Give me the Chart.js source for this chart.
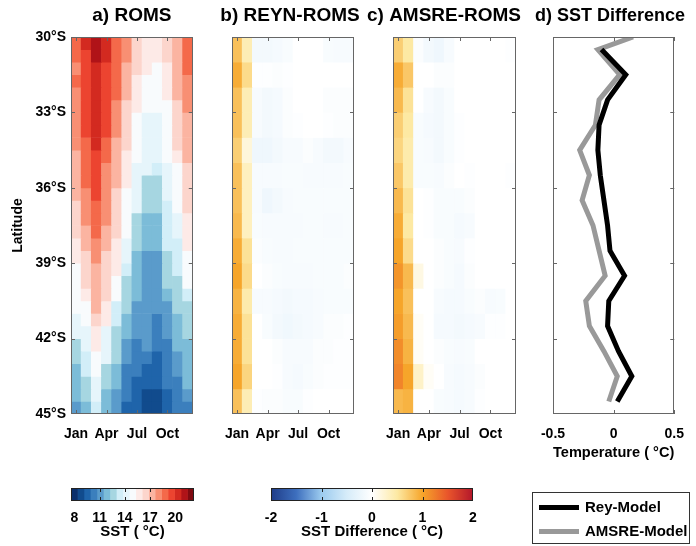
<!DOCTYPE html>
<html>
<head>
<meta charset="utf-8">
<script src="https://cdn.jsdelivr.net/npm/chart.js@4.4.1/dist/chart.umd.min.js"></script>
<style>
  body { margin: 0; background: #fff; }
  #figure { position: relative; width: 696px; height: 546px; overflow: hidden; font-family: 'Liberation Sans', Arial, sans-serif; }
  #figure canvas { position: absolute; }
  #legendBox { position: absolute; left: 532px; top: 492px; width: 158px; height: 52px; border: 1px solid #333; box-sizing: border-box; }
  .legend-row { position: absolute; left: 6px; height: 16px; line-height: 16px; display: flex; align-items: center; font-weight: bold; font-size: 15px; color: #000; }
  .legend-line { width: 40px; height: 5px; margin-right: 6px; }
</style>
</head>
<body>
<div id="figure">
  <canvas id="panelA" width="200" height="470" style="left:0;top:0"></canvas>
  <canvas id="panelB" width="160" height="470" style="left:212px;top:0"></canvas>
  <canvas id="panelC" width="170" height="470" style="left:366px;top:0"></canvas>
  <canvas id="panelD" width="176" height="470" style="left:520px;top:0"></canvas>
  <canvas id="barSst" width="210" height="70" style="left:0;top:476px"></canvas>
  <canvas id="barDiff" width="280" height="70" style="left:230px;top:476px"></canvas>
  <div id="legendBox">
    <div class="legend-row" style="top:6px"><span class="legend-line" style="background:#000"></span>Rey-Model</div>
    <div class="legend-row" style="top:30px"><span class="legend-line" style="background:#999"></span>AMSRE-Model</div>
  </div>
</div>
<script>
// Axis labels
const months = ['Jan', 'Feb', 'Mar', 'Apr', 'May', 'Jun', 'Jul', 'Aug', 'Sep', 'Oct', 'Nov', 'Dec'];
const monthTicks = ['Jan', 'Apr', 'Jul', 'Oct'];
const latTicks = [30, 33, 36, 39, 42, 45];
const sstTicks = [8, 11, 14, 17, 20];
const diffTicks = [-2, -1, 0, 1, 2];
const tempTicks = [-0.5, 0, 0.5];

// a) ROMS SST (°C), rows every 0.5° from 30°S down to 45°S, columns Jan..Dec
const sstRoms = [
  [18.5, 20.0, 20.7, 20.0, 18.5, 17.7, 16.2, 15.5, 15.5, 16.2, 17.0, 18.5],
  [18.5, 19.2, 20.7, 20.0, 18.5, 17.7, 16.2, 15.5, 15.5, 16.2, 17.0, 18.5],
  [17.7, 19.2, 20.0, 19.2, 18.5, 17.0, 16.2, 15.5, 14.7, 15.5, 17.0, 18.5],
  [18.5, 19.2, 20.0, 19.2, 18.5, 17.0, 15.5, 14.7, 14.7, 15.5, 17.0, 17.7],
  [17.7, 19.2, 20.0, 19.2, 18.5, 17.0, 15.5, 14.7, 14.7, 15.5, 17.0, 17.7],
  [17.7, 19.2, 20.0, 19.2, 17.7, 16.2, 15.5, 14.7, 14.7, 14.7, 16.2, 17.7],
  [17.7, 19.2, 20.0, 19.2, 17.7, 16.2, 14.7, 14.0, 14.0, 14.7, 16.2, 17.0],
  [17.7, 19.2, 20.0, 19.2, 17.7, 16.2, 14.7, 14.0, 14.0, 14.7, 16.2, 17.0],
  [17.7, 18.5, 20.0, 18.5, 17.0, 16.2, 14.7, 14.0, 14.0, 14.7, 16.2, 17.0],
  [17.0, 18.5, 19.2, 18.5, 17.0, 15.5, 14.7, 14.0, 14.0, 14.7, 15.5, 17.0],
  [17.0, 18.5, 19.2, 17.7, 17.0, 15.5, 14.0, 14.0, 13.2, 14.0, 14.7, 16.2],
  [17.0, 18.5, 19.2, 17.7, 17.0, 15.5, 14.0, 12.5, 12.5, 14.0, 14.7, 16.2],
  [17.0, 17.7, 19.2, 17.7, 16.2, 14.7, 14.0, 12.5, 12.5, 14.0, 14.7, 16.2],
  [16.2, 17.7, 18.5, 17.7, 16.2, 14.7, 14.0, 12.5, 12.5, 13.2, 14.7, 16.2],
  [16.2, 17.7, 18.5, 17.7, 16.2, 14.7, 12.5, 11.7, 11.7, 13.2, 14.0, 15.5],
  [16.2, 17.0, 18.5, 17.0, 16.2, 14.7, 12.5, 11.7, 11.7, 13.2, 14.0, 15.5],
  [15.5, 17.0, 17.7, 17.0, 15.5, 14.0, 12.5, 11.7, 11.7, 13.2, 13.2, 15.5],
  [15.5, 16.2, 17.7, 16.2, 15.5, 14.0, 11.7, 11.0, 11.0, 12.5, 13.2, 14.7],
  [14.7, 16.2, 17.0, 16.2, 15.5, 13.2, 11.7, 11.0, 11.0, 12.5, 13.2, 14.7],
  [14.7, 16.2, 17.0, 16.2, 14.7, 12.5, 11.7, 11.0, 11.0, 12.5, 12.5, 14.7],
  [14.7, 15.5, 17.0, 16.2, 14.7, 12.5, 11.7, 11.0, 11.0, 11.7, 12.5, 13.2],
  [14.7, 14.7, 17.0, 15.5, 13.2, 12.5, 11.0, 11.0, 11.0, 11.0, 12.5, 12.5],
  [14.0, 14.7, 16.2, 15.5, 13.2, 11.7, 11.0, 11.0, 10.2, 11.0, 11.7, 12.5],
  [14.0, 14.0, 15.5, 14.0, 12.5, 11.7, 11.0, 11.0, 10.2, 11.0, 11.7, 12.5],
  [12.5, 14.0, 15.5, 14.0, 12.5, 11.0, 10.2, 11.0, 10.2, 10.2, 11.7, 11.7],
  [12.5, 13.2, 14.7, 14.0, 12.5, 11.0, 10.2, 10.2, 9.5, 10.2, 11.0, 11.7],
  [11.7, 13.2, 14.7, 12.5, 11.7, 10.2, 10.2, 9.5, 9.5, 10.2, 11.0, 11.7],
  [11.7, 12.5, 14.0, 12.5, 11.7, 10.2, 9.5, 9.5, 9.5, 10.2, 10.2, 11.7],
  [11.7, 12.5, 14.0, 11.7, 11.0, 10.2, 9.5, 8.7, 8.7, 9.5, 10.2, 11.0],
  [11.0, 11.7, 13.2, 11.7, 11.0, 9.5, 9.5, 8.7, 8.7, 9.5, 10.2, 10.2]
];

// b) REYN-ROMS difference (°C), rows every 1° from 30°S
const reynDiff = [
  [0.80, 0.40, -0.15, -0.15, -0.12, -0.08, 0, 0, 0, -0.08, -0.10, -0.10],
  [0.95, 0.60, -0.03, -0.03, -0.05, -0.03, 0, 0, 0, 0, 0, 0],
  [0.80, 0.40, -0.10, -0.15, -0.12, -0.05, 0, 0, 0, -0.05, -0.05, -0.05],
  [0.80, 0.40, -0.10, -0.15, -0.12, -0.05, -0.03, 0, 0, -0.03, -0.05, -0.05],
  [0.70, 0.20, -0.20, -0.20, -0.15, -0.10, -0.10, -0.05, -0.10, -0.15, -0.15, -0.10],
  [0.80, 0.35, -0.10, -0.10, -0.10, -0.08, -0.08, -0.10, -0.10, -0.10, -0.10, -0.08],
  [0.80, 0.35, -0.10, -0.20, -0.15, -0.10, -0.08, -0.08, -0.08, -0.08, -0.08, -0.08],
  [0.85, 0.35, -0.08, -0.10, -0.10, -0.10, -0.10, -0.08, -0.08, -0.10, -0.10, -0.08],
  [0.95, 0.55, -0.05, -0.08, -0.10, -0.10, -0.08, -0.08, -0.08, -0.08, -0.08, -0.08],
  [1.00, 0.60, 0, -0.05, -0.08, -0.10, -0.10, -0.10, -0.08, -0.08, -0.08, -0.05],
  [0.90, 0.45, -0.10, -0.10, -0.12, -0.15, -0.12, -0.12, -0.10, -0.08, -0.08, -0.08],
  [0.95, 0.55, 0, -0.08, -0.15, -0.18, -0.15, -0.12, -0.10, -0.05, -0.05, -0.03],
  [0.95, 0.55, 0, 0, -0.05, -0.10, -0.10, -0.10, -0.05, -0.05, -0.03, -0.03],
  [1.00, 0.65, 0, 0, -0.03, -0.10, -0.12, -0.08, -0.05, -0.03, -0.03, -0.03],
  [0.80, 0.40, -0.03, -0.05, -0.05, -0.08, -0.08, -0.03, 0, 0, 0, 0]
];

// c) AMSRE-ROMS difference (°C), rows every 1° from 30°S
const amsreDiff = [
  [0.70, 0.50, -0.05, -0.15, -0.20, -0.10, 0, 0, 0, 0, 0, -0.03],
  [0.95, 0.75, 0, 0, -0.05, -0.05, 0, 0, 0, 0, 0, 0],
  [0.85, 0.55, 0, -0.10, -0.15, -0.08, 0, 0, 0, 0, 0, 0],
  [0.70, 0.50, -0.08, -0.12, -0.15, -0.08, -0.03, 0, 0, 0, 0, 0],
  [0.65, 0.45, -0.08, -0.10, -0.15, -0.08, -0.03, 0, 0, 0, 0, 0],
  [0.75, 0.45, -0.08, -0.08, -0.10, -0.05, 0, -0.03, 0, 0, 0, -0.03],
  [0.85, 0.55, 0, -0.03, -0.08, -0.08, -0.08, -0.05, 0, 0, 0, 0],
  [0.95, 0.50, 0, -0.03, -0.08, -0.08, -0.12, -0.10, 0, 0, 0, 0],
  [1.00, 0.60, 0, 0, -0.05, -0.08, -0.10, -0.03, 0, 0, 0, 0],
  [1.10, 0.85, 0.15, 0, -0.05, -0.08, -0.12, -0.05, 0, 0, 0, 0],
  [1.00, 0.80, 0, 0, -0.10, -0.12, -0.12, -0.08, -0.05, -0.10, -0.08, 0],
  [1.05, 0.85, 0.05, 0, -0.12, -0.12, -0.15, -0.12, -0.10, -0.03, -0.03, 0],
  [1.15, 0.90, 0.05, 0, -0.05, -0.08, -0.10, -0.08, 0, 0, 0, 0],
  [1.20, 1.00, 0.30, 0.05, 0, -0.10, -0.12, -0.10, -0.05, 0, 0, 0],
  [0.85, 0.90, 0, 0, -0.08, -0.10, -0.12, -0.10, -0.03, 0, 0, 0]
];

// d) annual mean SST difference profiles (°C)
const reyLat = [30.5, 31.5, 32.5, 33.5, 34.5, 35.5, 36.5, 37.5, 38.5, 39.5, 40.5, 41.5, 42.5, 43.5, 44.5];
const reyModel = [-0.10, 0.10, -0.05, -0.12, -0.13, -0.11, -0.08, -0.05, -0.03, 0.09, -0.04, -0.05, 0.04, 0.15, 0.03];
const amsreLat = [30.0, 30.5, 31.5, 32.5, 33.5, 34.5, 35.5, 36.5, 37.5, 38.5, 39.5, 40.5, 41.5, 42.5, 43.5, 44.5];
const amsreModel = [0.16, -0.13, 0.05, -0.12, -0.15, -0.28, -0.20, -0.26, -0.17, -0.12, -0.07, -0.23, -0.20, -0.08, 0.03, -0.04];

// colour scales
const sstMin = 7.6;
const sstStep = 0.77;
const sstColors = ['#0a2f6b', '#114b8d', '#1f64aa', '#3b7fbd', '#5a9bcb', '#7cbcd8', '#a6d6e1', '#d2eef8', '#e6f5fb',
  '#f8fbfd', '#fdeae7', '#fcd5cc', '#fbb4a1', '#f88f73', '#f4694a', '#ec4430', '#d32a20', '#b01318', '#7f0a10'];
const diffStops = [[-2, '#1f3c88'], [-1.5, '#3d6fbe'], [-1, '#9ccbef'], [-0.5, '#d6ecf9'], [0, '#ffffff'],
  [0.5, '#fde9a3'], [1, '#f6a52a'], [1.5, '#e9552b'], [2, '#b3162b']];

const FONT = "'Liberation Sans', Arial, sans-serif";
Chart.defaults.font.family = FONT;
Chart.defaults.color = '#000';
Chart.defaults.animation = false;

function sstColor(v) {
  let i = Math.floor((v - sstMin) / sstStep);
  i = Math.max(0, Math.min(sstColors.length - 1, i));
  return sstColors[i];
}

function hexToRgb(h) {
  const n = parseInt(h.slice(1), 16);
  return [(n >> 16) & 255, (n >> 8) & 255, n & 255];
}

function diffColor(v) {
  v = Math.max(-2, Math.min(2, v));
  for (let i = 0; i < diffStops.length - 1; i++) {
    const [v0, c0] = diffStops[i];
    const [v1, c1] = diffStops[i + 1];
    if (v >= v0 && v <= v1) {
      const t = (v - v0) / (v1 - v0);
      const a = hexToRgb(c0), b = hexToRgb(c1);
      const rgb = a.map((x, k) => Math.round(x + (b[k] - x) * t));
      return `rgb(${rgb.join(',')})`;
    }
  }
  return '#fff';
}

// box round the plot area with MATLAB style inward ticks
const matBox = {
  id: 'matBox',
  afterDatasetsDraw(chart, args, opts) {
    if (!opts || !opts.show) return;
    const { ctx, chartArea: a } = chart;
    const xs = chart.scales.x, ys = chart.scales.y;
    const len = 4;
    ctx.save();
    ctx.strokeStyle = opts.color || '#555';
    ctx.lineWidth = 1;
    ctx.strokeRect(Math.round(a.left) + 0.5, Math.round(a.top) + 0.5, Math.round(a.width) - 1, Math.round(a.height) - 1);
    ctx.beginPath();
    (opts.xTicks || []).forEach(v => {
      const p = Math.round(xs.getPixelForValue(v)) + 0.5;
      ctx.moveTo(p, a.top); ctx.lineTo(p, a.top + len);
      ctx.moveTo(p, a.bottom); ctx.lineTo(p, a.bottom - len);
    });
    (opts.yTicks || []).forEach(v => {
      const p = Math.round(ys.getPixelForValue(v)) + 0.5;
      ctx.moveTo(a.left, p); ctx.lineTo(a.left + len, p);
      ctx.moveTo(a.right, p); ctx.lineTo(a.right - len, p);
    });
    ctx.stroke();
    ctx.restore();
  }
};
Chart.register(matBox);

function titleOpts(text, fullSize) {
  return {
    display: true, text: text, fullSize: fullSize, color: '#000',
    font: { family: FONT, size: 19, weight: 'bold' },
    padding: { top: 4, bottom: 10.2 }
  };
}

// empty right-hand axis, only used to reserve room so the panel title is not squeezed
function spacerAxis(w) {
  return {
    position: 'right', display: w > 0,
    grid: { display: false, drawTicks: false },
    border: { display: false },
    ticks: { display: false },
    afterFit: s => { s.width = w; }
  };
}

const tickFont = { family: FONT, size: 14, weight: 'bold' };
const titleFont = { family: FONT, size: 15, weight: 'bold' };

function heatmap(id, grid, latTop, latStep, colorOf, p) {
  const datasets = grid.map((row, r) => {
    const lo = latTop + r * latStep;
    return {
      data: row.map(() => [lo, lo + latStep]),
      backgroundColor: row.map(colorOf),
      grouped: false,
      barPercentage: 1,
      categoryPercentage: 1,
      borderWidth: 0
    };
  });
  return new Chart(document.getElementById(id), {
    type: 'bar',
    data: { labels: months, datasets: datasets },
    options: {
      responsive: false,
      layout: { padding: { left: p.padL, right: p.padR, top: 0, bottom: 0 } },
      plugins: {
        legend: { display: false },
        tooltip: { enabled: false },
        title: titleOpts(p.title, p.full),
        matBox: { show: true, color: '#666', xTicks: [0, 3, 6, 9], yTicks: [33, 36, 39, 42] }
      },
      scales: {
        x: {
          grid: { display: false, drawTicks: false },
          border: { display: false },
          ticks: {
            autoSkip: false, maxRotation: 0, padding: 12, font: tickFont,
            callback: (v, i) => monthTicks.includes(months[i]) ? months[i] : ''
          },
          afterFit: s => { s.height = 56; }
        },
        y: {
          type: 'linear', reverse: true, min: 30, max: 45,
          grid: { display: false, drawTicks: false },
          border: { display: false },
          afterBuildTicks: s => { s.ticks = latTicks.map(v => ({ value: v })); },
          ticks: { display: p.yLabels, padding: 5, font: tickFont, callback: v => v + '°S' },
          title: { display: p.yLabels, text: 'Latitude', font: { family: FONT, size: 14, weight: 'bold' }, padding: { top: 10, bottom: 0 } },
          afterFit: s => { s.width = p.yWidth; }
        },
        yR: spacerAxis(p.rWidth)
      }
    }
  });
}

heatmap('panelA', sstRoms, 30, 0.5, sstColor, { title: 'a) ROMS', full: false, padL: 0, padR: 5, yWidth: 71, rWidth: 0, yLabels: true });
heatmap('panelB', reynDiff, 30, 1, diffColor, { title: 'b) REYN-ROMS', full: true, padL: 8, padR: 12, yWidth: 12, rWidth: 6, yLabels: false });
heatmap('panelC', amsreDiff, 30, 1, diffColor, { title: 'c) AMSRE-ROMS', full: true, padL: 1, padR: 15, yWidth: 26, rWidth: 5, yLabels: false });

// d) profiles
new Chart(document.getElementById('panelD'), {
  type: 'scatter',
  data: {
    datasets: [
      {
        label: 'Rey-Model',
        data: reyLat.map((lat, i) => ({ x: reyModel[i], y: lat })),
        showLine: true, borderColor: '#000', borderWidth: 5, pointRadius: 0
      },
      {
        label: 'AMSRE-Model',
        data: amsreLat.map((lat, i) => ({ x: amsreModel[i], y: lat })),
        showLine: true, borderColor: '#999', borderWidth: 5, pointRadius: 0
      }
    ]
  },
  options: {
    responsive: false,
    layout: { padding: { left: 15, right: 11, top: 0, bottom: 0 } },
    plugins: {
      legend: { display: false },
      tooltip: { enabled: false },
      title: titleOpts('d) SST Difference', true),
      matBox: { show: true, color: '#666', xTicks: tempTicks, yTicks: [33, 36, 39, 42] }
    },
    scales: {
      x: {
        type: 'linear', min: -0.5, max: 0.5,
        grid: { display: false, drawTicks: false },
        border: { display: false },
        afterBuildTicks: s => { s.ticks = tempTicks.map(v => ({ value: v })); },
        ticks: { padding: 12, font: tickFont, callback: v => String(v) },
        title: { display: true, text: 'Temperature ( °C)', font: titleFont, padding: { top: 0, bottom: 8 } },
        afterFit: s => { s.height = 56; }
      },
      y: {
        type: 'linear', reverse: true, min: 30, max: 45,
        grid: { display: false, drawTicks: false },
        border: { display: false },
        ticks: { display: false },
        afterFit: s => { s.width = 18; }
      },
      yR: spacerAxis(8)
    }
  }
});

// colour bars
function colorbar(id, datasets, min, max, ticks, label, padL, padR) {
  return new Chart(document.getElementById(id), {
    type: 'bar',
    data: { labels: [''], datasets: datasets },
    options: {
      indexAxis: 'y',
      responsive: false,
      layout: { padding: { left: padL, right: padR, top: 12, bottom: 0 } },
      plugins: {
        legend: { display: false },
        tooltip: { enabled: false },
        matBox: { show: true, color: '#222', xTicks: ticks.slice(1, -1), yTicks: [] }
      },
      scales: {
        x: {
          type: 'linear', min: min, max: max,
          grid: { display: false, drawTicks: false },
          border: { display: false },
          afterBuildTicks: s => { s.ticks = ticks.map(v => ({ value: v })); },
          ticks: { padding: 9, font: tickFont, callback: v => String(v) },
          title: { display: true, text: label, font: titleFont, padding: { top: 0, bottom: 5 } },
          afterFit: s => { s.height = 45; }
        },
        y: { display: false }
      }
    }
  });
}

const sstBands = sstColors.map((c, i) => ({
  data: [[sstMin + i * sstStep, sstMin + (i + 1) * sstStep]],
  backgroundColor: c, grouped: false, barPercentage: 1, categoryPercentage: 1, borderWidth: 0
}));
colorbar('barSst', sstBands, sstMin, sstMin + sstColors.length * sstStep, sstTicks, 'SST ( °C)', 71, 16);

const diffBand = [{
  data: [[diffTicks[0], diffTicks[diffTicks.length - 1]]],
  backgroundColor: c => {
    const a = c.chart.chartArea;
    if (!a || !isFinite(a.left) || !isFinite(a.right)) return '#ffffff';
    const g = c.chart.ctx.createLinearGradient(a.left, 0, a.right, 0);
    diffStops.forEach(([v, col]) => g.addColorStop((v + 2) / 4, col));
    return g;
  },
  grouped: false, barPercentage: 1, categoryPercentage: 1, borderWidth: 0
}];
colorbar('barDiff', diffBand, -2, 2, diffTicks, 'SST Difference ( °C)', 41, 37);
</script>
</body>
</html>
